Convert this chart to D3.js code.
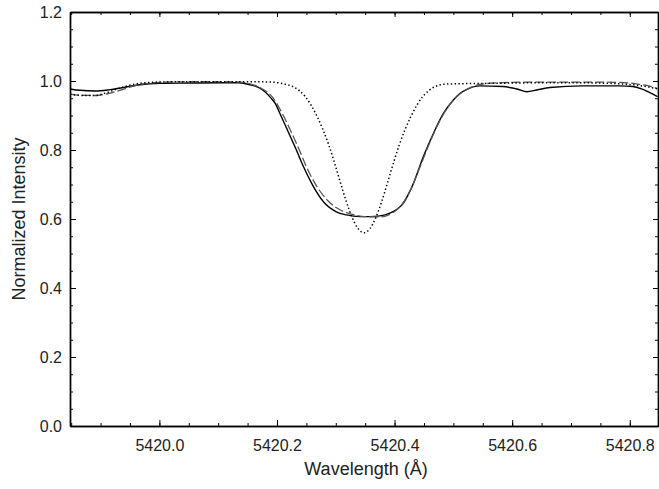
<!DOCTYPE html>
<html>
<head>
<meta charset="utf-8">
<script src="https://cdn.jsdelivr.net/npm/d3@7"></script>
<style>
  body { margin: 0; background: #fff; }
  text { font-family: Arial, "Liberation Sans", sans-serif; fill: #222; }
</style>
</head>
<body>
<div id="chart"></div>
<script>
// observed profile (solid)
var obsWave = [5419.848, 5419.865, 5419.891, 5419.916, 5419.942, 5419.967, 5420.001, 5420.052, 5420.103, 5420.137,
  5420.146, 5420.154, 5420.163, 5420.171, 5420.180, 5420.188, 5420.197, 5420.205, 5420.219, 5420.233,
  5420.245, 5420.262, 5420.279, 5420.301, 5420.318, 5420.341, 5420.358, 5420.375, 5420.392, 5420.404,
  5420.415, 5420.423, 5420.432, 5420.449, 5420.466, 5420.483, 5420.500, 5420.511, 5420.523, 5420.545,
  5420.584, 5420.610, 5420.625, 5420.642, 5420.664, 5420.720, 5420.783, 5420.805, 5420.820, 5420.834, 5420.847];
var obsFlux = [0.977, 0.973, 0.971, 0.975, 0.982, 0.989, 0.993, 0.994, 0.995, 0.995,
  0.992, 0.989, 0.985, 0.979, 0.968, 0.954, 0.935, 0.906, 0.853, 0.800,
  0.752, 0.694, 0.650, 0.621, 0.612, 0.607, 0.607, 0.609, 0.617, 0.628,
  0.646, 0.670, 0.703, 0.781, 0.848, 0.906, 0.945, 0.964, 0.976, 0.986,
  0.984, 0.976, 0.969, 0.974, 0.981, 0.986, 0.986, 0.984, 0.977, 0.966, 0.955];

// broadened model (dashed)
var modelWave = [5419.848, 5419.865, 5419.891, 5419.916, 5419.942, 5419.967, 5420.001, 5420.069, 5420.137, 5420.154,
  5420.171, 5420.192, 5420.209, 5420.224, 5420.238, 5420.250, 5420.268, 5420.287, 5420.310, 5420.327,
  5420.350, 5420.375, 5420.400, 5420.409, 5420.426, 5420.443, 5420.460, 5420.477, 5420.494, 5420.511,
  5420.528, 5420.545, 5420.580, 5420.647, 5420.749, 5420.800, 5420.817, 5420.834, 5420.847];
var modelFlux = [0.962, 0.959, 0.958, 0.965, 0.978, 0.990, 0.996, 0.998, 0.997, 0.992,
  0.981, 0.954, 0.906, 0.853, 0.800, 0.752, 0.694, 0.652, 0.624, 0.614,
  0.607, 0.606, 0.622, 0.635, 0.680, 0.750, 0.822, 0.885, 0.932, 0.962,
  0.980, 0.990, 0.995, 0.997, 0.997, 0.994, 0.990, 0.985, 0.978];

// unbroadened model (dotted)
var narrowWave = [5419.848, 5419.870, 5419.890, 5419.910, 5419.930, 5419.950, 5419.970, 5420.000, 5420.050, 5420.100,
  5420.150, 5420.188, 5420.208, 5420.218, 5420.228, 5420.238, 5420.248, 5420.258, 5420.268, 5420.278,
  5420.288, 5420.298, 5420.308, 5420.318, 5420.328, 5420.338, 5420.348, 5420.358, 5420.368, 5420.378,
  5420.388, 5420.398, 5420.408, 5420.418, 5420.428, 5420.438, 5420.448, 5420.458, 5420.468, 5420.478,
  5420.488, 5420.508, 5420.550, 5420.600, 5420.650, 5420.700, 5420.750, 5420.790, 5420.810, 5420.830, 5420.847];
var narrowFlux = [0.962, 0.958, 0.958, 0.966, 0.978, 0.988, 0.994, 0.997, 0.998, 0.998,
  0.998, 0.997, 0.993, 0.989, 0.983, 0.972, 0.955, 0.930, 0.898, 0.860,
  0.815, 0.762, 0.705, 0.650, 0.604, 0.572, 0.560, 0.572, 0.604, 0.650,
  0.705, 0.762, 0.815, 0.860, 0.898, 0.930, 0.955, 0.972, 0.983, 0.989,
  0.991, 0.992, 0.993, 0.994, 0.995, 0.995, 0.994, 0.991, 0.988, 0.983, 0.977];

var xMajor = [5420.0, 5420.2, 5420.4, 5420.6, 5420.8];
var yMajor = [0.0, 0.2, 0.4, 0.6, 0.8, 1.0, 1.2];

var margin = {top: 12, right: 1, bottom: 63, left: 70};
var fullWidth = 659, fullHeight = 489;
var width = fullWidth - margin.left - margin.right;
var height = fullHeight - margin.top - margin.bottom;

var x = d3.scaleLinear().domain([5419.848, 5420.848]).range([0, width]);
var y = d3.scaleLinear().domain([0, 1.2]).range([height, 0]);

var svg = d3.select("#chart").append("svg")
    .attr("width", fullWidth)
    .attr("height", fullHeight);

var g = svg.append("g")
    .attr("transform", "translate(" + margin.left + "," + margin.top + ")");

g.append("clipPath").attr("id", "clip")
  .append("rect").attr("width", width).attr("height", height);

var xMinor = d3.range(5419.85, 5420.85, 0.05).map(function(d) { return +d.toFixed(2); });
var yMinor = d3.range(0, 1.2001, 0.05).map(function(d) { return +d.toFixed(2); });

// bottom and top axes, ticks pointing inward
var bottomAxis = g.append("g").attr("transform", "translate(0," + height + ")");
bottomAxis.call(d3.axisBottom(x).tickValues(xMinor).tickSizeInner(-3).tickSizeOuter(0).tickFormat(""));
bottomAxis.append("g").attr("class", "major")
  .call(d3.axisBottom(x).tickValues(xMajor).tickSizeInner(-6).tickSizeOuter(0).tickFormat(d3.format(".1f")));

var topAxis = g.append("g");
topAxis.call(d3.axisTop(x).tickValues(xMinor).tickSizeInner(-3).tickSizeOuter(0).tickFormat(""));
topAxis.append("g").call(d3.axisTop(x).tickValues(xMajor).tickSizeInner(-5).tickSizeOuter(0).tickFormat(""));

var leftAxis = g.append("g");
leftAxis.call(d3.axisLeft(y).tickValues(yMinor).tickSizeInner(-3).tickSizeOuter(0).tickFormat(""));
leftAxis.append("g").attr("class", "major")
  .call(d3.axisLeft(y).tickValues(yMajor).tickSizeInner(-6).tickSizeOuter(0).tickFormat(d3.format(".1f")));

var rightAxis = g.append("g").attr("transform", "translate(" + width + ",0)");
rightAxis.call(d3.axisRight(y).tickValues(yMinor).tickSizeInner(-3).tickSizeOuter(0).tickFormat(""));
rightAxis.append("g").call(d3.axisRight(y).tickValues(yMajor).tickSizeInner(-5).tickSizeOuter(0).tickFormat(""));

g.selectAll(".domain").attr("stroke", "#000").attr("stroke-width", 1.4);
g.selectAll(".tick line").attr("stroke", "#000").attr("stroke-width", 1);
g.selectAll(".tick text")
  .style("font-family", "Arial, 'Liberation Sans', sans-serif")
  .style("font-size", "16px")
  .attr("fill", "#222");
bottomAxis.selectAll(".major .tick text").attr("y", 14);
leftAxis.selectAll(".major .tick text").attr("x", -8);

var line = d3.line()
  .x(function(d) { return x(d[0]); })
  .y(function(d) { return y(d[1]); })
  .curve(d3.curveMonotoneX);

var series = [
  {wave: obsWave, flux: obsFlux, color: "#000", dash: null, w: 1.4},
  {wave: modelWave, flux: modelFlux, color: "#555", dash: "9,3", w: 1.3},
  {wave: narrowWave, flux: narrowFlux, color: "#000", dash: "1.4,2.4", w: 1.5}
];

g.append("g").attr("clip-path", "url(#clip)")
  .selectAll("path")
  .data(series)
  .enter()
  .append("path")
    .attr("fill", "none")
    .attr("stroke", function(d) { return d.color; })
    .attr("stroke-width", function(d) { return d.w; })
    .attr("stroke-dasharray", function(d) { return d.dash; })
    .attr("d", function(d) { return line(d.wave.map(function(w, i) { return [w, d.flux[i]]; })); });

svg.append("text")
  .attr("x", 366)
  .attr("y", 475)
  .attr("text-anchor", "middle")
  .style("font-size", "18px")
  .text("Wavelength (Å)");

svg.append("text")
  .attr("transform", "translate(25," + (margin.top + height / 2) + ") rotate(-90)")
  .attr("text-anchor", "middle")
  .style("font-size", "18px")
  .text("Normalized Intensity");
</script>
</body>
</html>
